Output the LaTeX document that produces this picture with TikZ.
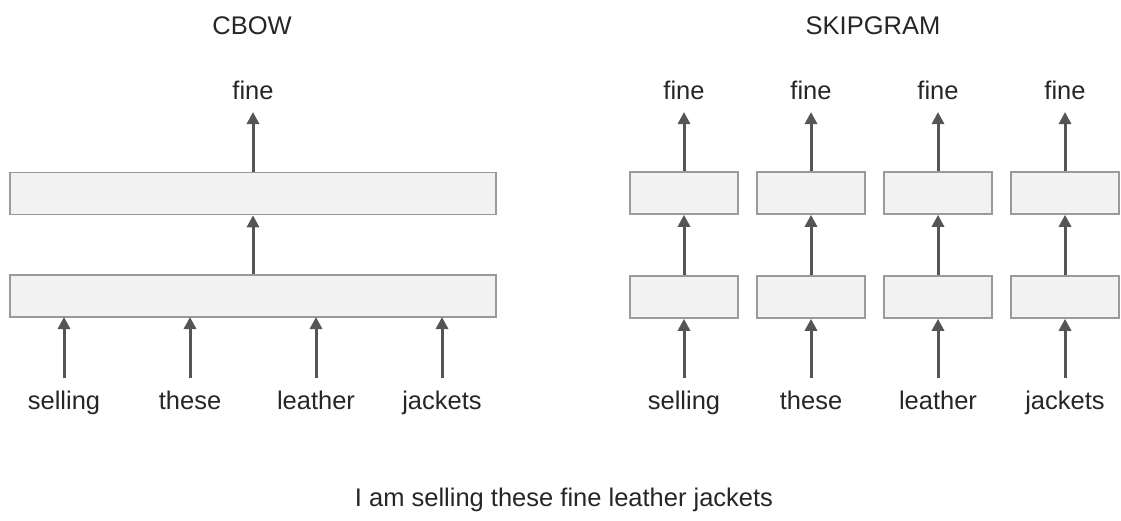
\documentclass[tikz,border=0pt]{standalone}
\usepackage{fontspec}
\setmainfont{Liberation Sans}
\usetikzlibrary{arrows.meta}
\definecolor{boxfill}{HTML}{F2F2F2}
\definecolor{boxline}{HTML}{9A9A9A}
\definecolor{arrowcol}{HTML}{555555}
\definecolor{textcol}{HTML}{262626}
\tikzset{
  layer/.style={draw=boxline, line width=1.6pt, fill=boxfill, inner sep=0pt, minimum height=42pt},
  word/.style={text=textcol, font=\fontsize{25.5}{30}\selectfont, inner sep=0pt, anchor=base},
  title/.style={word},
  flow/.style={draw=arrowcol, line width=3pt, -{Triangle[length=12pt,width=12pt]}}
}
\begin{document}
\begin{tikzpicture}[x=1pt,y=-1pt]
\useasboundingbox (0,0) rectangle (1121,520);
% ---- CBOW ----
\node[title] (tcbow) at (252,34) {CBOW};
\node[layer, minimum width=486pt] (chid) at (253,193.5) {};
\node[layer, minimum width=486pt] (cin) at (253,296) {};
\node[word] (cout) at (253,99) {fine};
\draw[flow] (cin.north) -- (chid.south);
\draw[flow] (chid.north) -- ([yshift=-13pt]cout.base);
\foreach \x/\w/\n in {64/selling/a,190/these/b,316/leather/c,442/jackets/d}{
  \node[word] (cw\n) at (\x,409) {\w};
  \coordinate (ce\n) at (\x,317);
  \draw[flow] ([yshift=31pt]cw\n.base) -- (ce\n);
}
% ---- SKIPGRAM ----
\node[title] (tskip) at (873,34) {SKIPGRAM};
\foreach \x/\w/\n in {684/selling/a,811/these/b,938/leather/c,1065/jackets/d}{
  \node[layer, minimum width=108pt] (sh\n) at (\x,193) {};
  \node[layer, minimum width=108pt] (si\n) at (\x,297) {};
  \node[word] (so\n) at (\x,99) {fine};
  \node[word] (sw\n) at (\x,409) {\w};
  \draw[flow] (si\n.north) -- (sh\n.south);
  \draw[flow] (sh\n.north) -- ([yshift=-13pt]so\n.base);
  \draw[flow] ([yshift=31pt]sw\n.base) -- (si\n.south);
}
% ---- sentence ----
\node[word] (sent) at (564,506) {I am selling these fine leather jackets};
\end{tikzpicture}
\end{document}
